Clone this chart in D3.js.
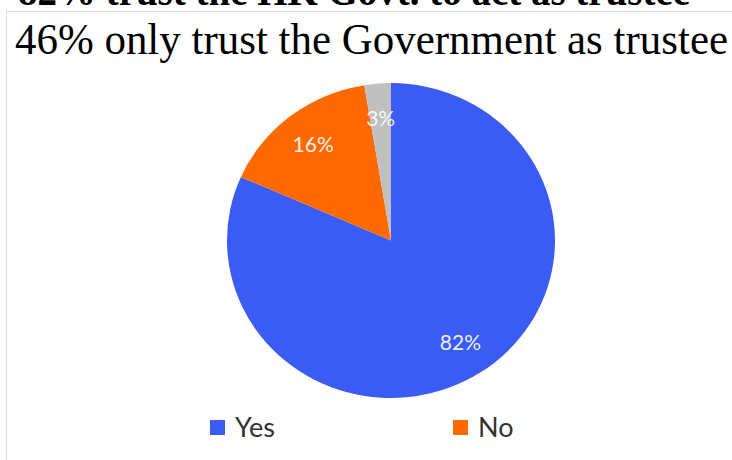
<!DOCTYPE html>
<html>
<head>
<meta charset="utf-8">
<script src="https://cdn.jsdelivr.net/npm/d3@7"></script>
<style>
  html, body { margin: 0; padding: 0; background: #fff; }
  svg { display: block; }
</style>
</head>
<body>
<svg></svg>
<script>
// chart data
let titleTop = "82% trust the HK Govt. to act as trustee"
let titleMain = "46% only trust the Government as trustee"
let categories = ["Yes", "No", "Other"]
let values = [81.6, 15.8, 2.6]
let sliceLabels = ["82%", "16%", "3%"]
let colors = ["#3a5cf5", "#ff6a00", "#c0c0c0"]
let legendItems = ["Yes", "No"]

let width = 732
let height = 460
let cx = 391
let cy = 240.5
let radius = 164
let squash = 0.96   // the picture is slightly flattened vertically

let svg = d3.select("svg")
    .attr("width", width)
    .attr("height", height)

// panel border
svg.append("rect")
    .attr("x", 6.5)
    .attr("y", 11.5)
    .attr("width", width)
    .attr("height", height)
    .attr("fill", "#fff")
    .attr("stroke", "#dcdcdc")

// titles (the first one is cut off at the top edge, as in the source)
svg.append("text")
    .attr("x", 18)
    .attr("y", 5)
    .attr("textLength", 672)
    .attr("lengthAdjust", "spacingAndGlyphs")
    .style("font-family", "'Liberation Serif', 'Times New Roman', serif")
    .style("font-weight", "bold")
    .style("font-size", "42px")
    .attr("fill", "#000")
    .text(titleTop)

svg.append("text")
    .attr("x", 15)
    .attr("y", 54)
    .attr("textLength", 713)
    .attr("lengthAdjust", "spacingAndGlyphs")
    .style("font-family", "'Liberation Serif', 'Times New Roman', serif")
    .style("font-size", "44px")
    .attr("fill", "#000")
    .text(titleMain)

// pie
let pie = d3.pie().sort(null).value(d => d)
let arcs = pie(values)

let arc = d3.arc().innerRadius(0).outerRadius(radius)
let labelArc = d3.arc().innerRadius(127).outerRadius(127)

let pieGroup = svg.append("g")
    .attr("transform", "translate(" + cx + "," + cy + ") scale(1," + squash + ")")

pieGroup.selectAll("path")
    .data(arcs)
    .enter()
    .append("path")
    .attr("d", arc)
    .attr("fill", (d, i) => colors[i])

// slice labels (kept out of the squashed group so the text is not distorted)
svg.selectAll(".slice-label")
    .data(arcs)
    .enter()
    .append("text")
    .attr("class", "slice-label")
    .attr("x", d => cx + labelArc.centroid(d)[0])
    .attr("y", d => cy + labelArc.centroid(d)[1] * squash)
    .attr("dy", "0.35em")
    .attr("text-anchor", "middle")
    .style("font-family", "Lato, 'Open Sans', sans-serif")
    .style("font-size", "21px")
    .attr("fill", "#fff")
    .attr("fill-opacity", 0.92)
    .text((d, i) => sliceLabels[i])

// legend
let legendX = d3.scalePoint()
    .domain(legendItems)
    .range([210, 453])

let legend = svg.selectAll(".legend")
    .data(legendItems)
    .enter()
    .append("g")
    .attr("class", "legend")
    .attr("transform", d => "translate(" + legendX(d) + ",420)")

legend.append("rect")
    .attr("width", 15)
    .attr("height", 15)
    .attr("fill", d => colors[categories.indexOf(d)])

legend.append("text")
    .attr("x", 25)
    .attr("y", 17)
    .style("font-family", "Lato, 'Open Sans', sans-serif")
    .style("font-size", "27px")
    .attr("fill", "#333")
    .text(d => d)
</script>
</body>
</html>
